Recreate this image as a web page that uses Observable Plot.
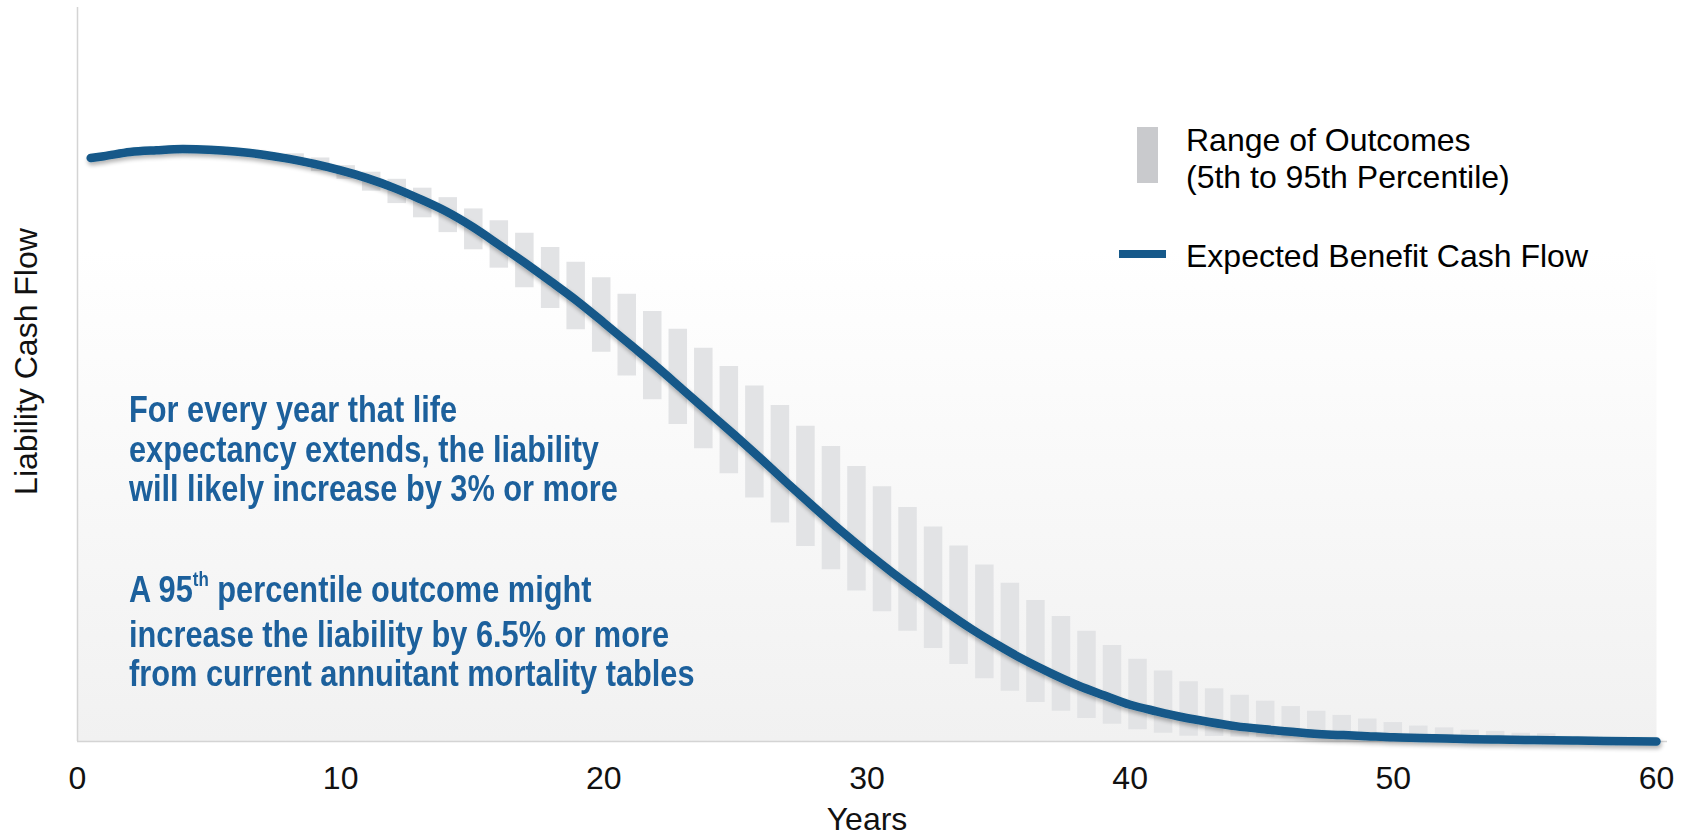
<!DOCTYPE html>
<html><head><meta charset="utf-8">
<script src="https://cdn.jsdelivr.net/npm/d3@7"></script>
<script src="https://cdn.jsdelivr.net/npm/@observablehq/plot@0.6"></script>
<style>
html,body{margin:0;padding:0;background:#fff;}
#wrap{position:relative;width:1685px;height:836px;font-family:"Liberation Sans",Arial,sans-serif;overflow:hidden;}
#wrap svg{position:absolute;left:0;top:0;}
.note{position:absolute;left:129px;color:#1c609c;font-family:"Liberation Sans Narrow","Arial Narrow",sans-serif;font-weight:bold;font-size:37.5px;line-height:39.5px;white-space:nowrap;transform-origin:0 0;}
.note sup{font-size:0.55em;vertical-align:0;position:relative;top:-0.78em;}
.leg{position:absolute;font-size:32px;color:#000;white-space:nowrap;line-height:32px;}
</style></head>
<body><div id="wrap"></div>
<script>
// Expected benefit cash flow (relative units, peak = 100)
const years = [0.5,1,2,3,4,5,6,7,8,9,10,11,12,13,14,15,16,17,18,19,20,21,22,23,24,25,26,27,28,29,30,31,32,33,34,35,36,37,38,39,40,41,42,43,44,45,46,47,48,49,50,51,52,53,54,55,56,57,58,59,60];
const expected = [98.5,98.8,99.5,99.8,100,99.9,99.6,99.1,98.4,97.5,96.4,95.1,93.5,91.6,89.5,86.9,83.9,80.8,77.6,74.3,70.7,67.0,63.3,59.4,55.5,51.6,47.6,43.5,39.5,35.6,31.9,28.4,25.1,21.9,18.9,16.2,13.7,11.5,9.5,7.8,6.2,5.1,4.1,3.3,2.6,2.1,1.7,1.3,1.1,0.9,0.7,0.6,0.5,0.4,0.34,0.27,0.2,0.15,0.1,0.05,0];

// Range of outcomes (5th to 95th percentile)
const barYears = [8.25,9.22,10.19,11.16,12.13,13.10,14.07,15.04,16.01,16.98,17.96,18.93,19.90,20.87,21.84,22.81,23.78,24.75,25.72,26.69,27.66,28.63,29.60,30.57,31.54,32.51,33.48,34.46,35.43,36.40,37.37,38.34,39.31,40.28,41.25,42.22,43.19,44.16,45.13,46.10,47.07,48.04,49.01,49.98,50.95,51.93,52.90,53.87,54.84,55.81];
const p95 = [99.2,98.5,97.2,96.1,94.9,93.4,91.8,89.9,87.9,85.8,83.4,80.9,78.3,75.5,72.6,69.6,66.4,63.3,60.0,56.7,53.2,49.8,46.4,43.0,39.5,36.2,33.0,29.8,26.7,23.8,21.1,18.6,16.2,13.9,11.9,10.1,8.9,7.8,6.8,5.9,5.1,4.4,3.8,3.2,2.6,2.3,1.9,1.7,1.4,1.3];
const p5 = [97.6,96.2,94.9,92.9,90.8,88.4,85.9,83.0,79.9,76.6,73.1,69.5,65.7,61.7,57.7,53.5,49.4,45.2,41.1,36.9,32.9,29.0,25.4,21.9,18.6,15.7,13.0,10.6,8.5,6.6,5.1,3.9,2.9,2.0,1.4,0.9,0.85,0.76,0.68,0.6,0.5,0.45,0.4,0.35,0.3,0.25,0.2,0.17,0.14,0.12];

const xTicks = [0,10,20,30,40,50,60];
const xTitle = "Years";
const yTitle = "Liability Cash Flow";
const legendLabels = ["Range of Outcomes", "(5th to 95th Percentile)", "Expected Benefit Cash Flow"];
const noteLines1 = ["For every year that life", "expectancy extends, the liability", "will likely increase by 3% or more"];
const noteLines2 = ["A 95<sup>th</sup> percentile outcome might", "increase the liability by 6.5% or more", "from current annuitant mortality tables"];

const lineData = years.map((x, i) => ({x, y: expected[i]}));
const barData = barYears.map((x, i) => ({x, lo: p5[i], hi: p95[i]}));

const defs = () => {
  const ns = "http://www.w3.org/2000/svg";
  const d = document.createElementNS(ns, "defs");
  d.innerHTML = `<linearGradient id="bgGrad" x1="0" y1="0" x2="0" y2="1">
      <stop offset="0" stop-color="#ffffff"/><stop offset="0.33" stop-color="#ffffff"/><stop offset="1" stop-color="#f1f1f1"/></linearGradient>
    <filter id="shadow" filterUnits="userSpaceOnUse" x="0" y="0" width="1685" height="836">
      <feGaussianBlur in="SourceAlpha" stdDeviation="2"/>
      <feOffset dx="1" dy="2.5" result="b"/>
      <feComponentTransfer><feFuncA type="linear" slope="0.3"/></feComponentTransfer>
      <feMerge><feMergeNode/><feMergeNode in="SourceGraphic"/></feMerge>
    </filter>`;
  return d;
};

const chart = Plot.plot({
  width: 1685, height: 836,
  marginLeft: 77, marginRight: 29, marginTop: 7, marginBottom: 95,
  style: {background: "transparent", fontFamily: '"Liberation Sans", Arial, sans-serif', fontSize: "32px", color: "#111", overflow: "visible"},
  x: {domain: [0, 60]},
  y: {domain: [0, 123.9], axis: null},
  marks: [
    defs,
    Plot.frame({fill: "url(#bgGrad)", stroke: "none"}),
    Plot.ruleX([0], {stroke: "#d4d4d4", strokeWidth: 1.5}),
    Plot.ruleY([0], {stroke: "#d4d4d4", strokeWidth: 1.5, insetRight: -11}),
    Plot.ruleX(barData, {x: "x", y1: "lo", y2: "hi", stroke: "#e2e3e5", strokeWidth: 18.5}),
    Plot.line(lineData, {x: "x", y: "y", stroke: "#125889", strokeWidth: 8.5, curve: "monotone-x", strokeLinecap: "round"}),
    Plot.axisX({ticks: xTicks, tickSize: 0, tickPadding: 25, label: null, fontSize: 32, tickFormat: d => String(d)}),
    Plot.text([xTitle], {frameAnchor: "bottom", dy: 78, fontSize: 32, lineAnchor: "middle", textAnchor: "middle", fill: "#111"}),
    Plot.text([yTitle], {frameAnchor: "left", rotate: -90, dx: -51, dy: -13, fontSize: 32, lineAnchor: "middle", textAnchor: "middle", fill: "#111"})
  ]
});
const wrap = document.getElementById("wrap");
wrap.appendChild(chart);
const lp = chart.querySelector('g[aria-label="line"] path');
if (lp) lp.setAttribute("filter", "url(#shadow)");

// legend
function add(html, css, cls) {
  const d = document.createElement("div");
  if (cls) d.className = cls;
  d.innerHTML = html;
  Object.assign(d.style, css);
  wrap.appendChild(d);
  return d;
}
add("", {position: "absolute", left: "1137px", top: "127px", width: "21px", height: "56px", background: "#c9cacd"});
add(legendLabels[0], {left: "1186px", top: "124px"}, "leg");
add(legendLabels[1], {left: "1186px", top: "161px"}, "leg");
add("", {position: "absolute", left: "1119px", top: "250px", width: "47px", height: "8px", background: "#16598a"});
add(legendLabels[2], {left: "1186px", top: "240px"}, "leg");

// annotation
function hasFont(f) {
  const c = document.createElement("canvas").getContext("2d");
  const t = "abcdefghijklmnop mortality tables";
  c.font = "bold 40px monospace"; const a = c.measureText(t).width;
  c.font = `bold 40px "${f}", monospace`; return c.measureText(t).width !== a;
}
const narrow = hasFont("Liberation Sans Narrow");
const n1 = add(noteLines1.join("<br>"), {top: "390px"}, "note");
const n2 = add(noteLines2.join("<br>"), {top: "570px"}, "note");
if (!narrow) {
  for (const n of [n1, n2]) { n.style.fontFamily = '"Liberation Sans", Arial, sans-serif'; n.style.transform = "scaleX(0.82)"; }
}
</script>
</body></html>
